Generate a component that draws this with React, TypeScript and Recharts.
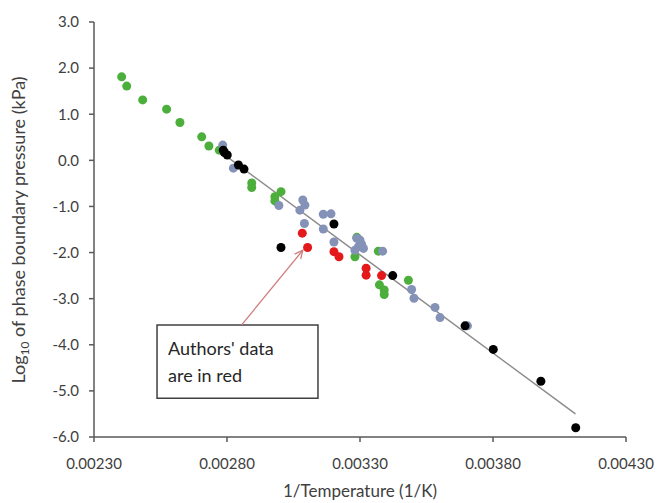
import React from 'react';
import {
  ReferenceArea,
  ReferenceLine,
  Scatter,
  ScatterChart,
  XAxis,
  YAxis,
} from 'recharts';

type Pt = { x: number; y: number };

const xTicks = [0.0023, 0.0028, 0.0033, 0.0038, 0.0043];
const yTicks = [-6, -5, -4, -3, -2, -1, 0, 1, 2, 3];

// literature data sets
const greenPoints: Pt[] = [
  { x: 0.002404, y: 1.81 },
  { x: 0.002423, y: 1.61 },
  { x: 0.002483, y: 1.31 },
  { x: 0.002573, y: 1.11 },
  { x: 0.002623, y: 0.82 },
  { x: 0.002705, y: 0.51 },
  { x: 0.002732, y: 0.31 },
  { x: 0.002771, y: 0.22 },
  { x: 0.002893, y: -0.49 },
  { x: 0.002893, y: -0.59 },
  { x: 0.00298, y: -0.79 },
  { x: 0.003003, y: -0.68 },
  { x: 0.00298, y: -0.88 },
  { x: 0.003288, y: -1.67 },
  { x: 0.003281, y: -2.09 },
  { x: 0.003369, y: -1.97 },
  { x: 0.003373, y: -2.7 },
  { x: 0.003391, y: -2.81 },
  { x: 0.003391, y: -2.91 },
  { x: 0.003482, y: -2.6 },
];

const grayPoints: Pt[] = [
  { x: 0.002784, y: 0.33 },
  { x: 0.002824, y: -0.17 },
  { x: 0.002995, y: -0.98 },
  { x: 0.003085, y: -0.86 },
  { x: 0.003093, y: -0.97 },
  { x: 0.003074, y: -1.08 },
  { x: 0.003162, y: -1.17 },
  { x: 0.003191, y: -1.16 },
  { x: 0.003091, y: -1.37 },
  { x: 0.003162, y: -1.49 },
  { x: 0.003202, y: -1.77 },
  { x: 0.003288, y: -1.69 },
  { x: 0.0033, y: -1.73 },
  { x: 0.003294, y: -1.87 },
  { x: 0.003313, y: -1.91 },
  { x: 0.003306, y: -1.82 },
  { x: 0.003281, y: -1.95 },
  { x: 0.003385, y: -1.97 },
  { x: 0.003494, y: -2.8 },
  { x: 0.003503, y: -2.99 },
  { x: 0.003582, y: -3.19 },
  { x: 0.003601, y: -3.41 },
  { x: 0.003704, y: -3.59 },
];

// authors' own measurements
const redPoints: Pt[] = [
  { x: 0.003083, y: -1.58 },
  { x: 0.003103, y: -1.89 },
  { x: 0.003202, y: -1.98 },
  { x: 0.003221, y: -2.09 },
  { x: 0.003323, y: -2.34 },
  { x: 0.003323, y: -2.49 },
  { x: 0.003381, y: -2.5 },
];

const blackPoints: Pt[] = [
  { x: 0.002786, y: 0.22 },
  { x: 0.00279, y: 0.17 },
  { x: 0.002801, y: 0.115 },
  { x: 0.002843, y: -0.1 },
  { x: 0.002864, y: -0.19 },
  { x: 0.003202, y: -1.38 },
  { x: 0.003003, y: -1.89 },
  { x: 0.003423, y: -2.5 },
  { x: 0.003695, y: -3.59 },
  { x: 0.003801, y: -4.1 },
  { x: 0.00398, y: -4.79 },
  { x: 0.004111, y: -5.8 },
];

// linear fit through all data
const trendLine: Pt[] = [
  { x: 0.00276, y: 0.25 },
  { x: 0.00411, y: -5.5 },
];

// note box and its arrow, in data units
const noteBox = { x1: 0.002537, x2: 0.003142, y1: -5.16, y2: -3.57 };
const noteArrow: Pt[] = [
  { x: 0.002855, y: -3.57 },
  { x: 0.003085, y: -1.95 },
];

const FONT = 'Lato, "Open Sans", sans-serif';
const AXIS = '#595959';
const TEXT = '#404040';

const dot = (fill: string) => (p: any) => (
  <circle cx={p.cx} cy={p.cy} r={4.5} fill={fill} />
);

const YTitle = () => (
  <text
    transform="rotate(-90, 25, 230)"
    x={25}
    y={230}
    textAnchor="middle"
    fontSize={18}
    fill={TEXT}
    fontFamily={FONT}
  >
    <tspan>Log</tspan>
    <tspan fontSize={12} dy={4}>
      10
    </tspan>
    <tspan dy={-4}> of phase boundary pressure (kPa)</tspan>
  </text>
);

const XTitle = () => (
  <text
    x={360}
    y={497}
    textAnchor="middle"
    fontSize={17}
    fill={TEXT}
    fontFamily={FONT}
  >
    1/Temperature (1/K)
  </text>
);

const NoteText = (props: any) => {
  const { x, y } = props.viewBox;
  return (
    <text fontSize={18} fill="#262626" fontFamily={FONT}>
      <tspan x={x + 11} y={y + 30}>
        Authors' data
      </tspan>
      <tspan x={x + 11} y={y + 57}>
        are in red
      </tspan>
    </text>
  );
};

const Arrow = (props: any) => {
  const { x1, y1, x2, y2 } = props;
  const ang = Math.atan2(y2 - y1, x2 - x1);
  const len = 9;
  const spread = 0.45;
  const ax = x2 - len * Math.cos(ang - spread);
  const ay = y2 - len * Math.sin(ang - spread);
  const bx = x2 - len * Math.cos(ang + spread);
  const by = y2 - len * Math.sin(ang + spread);
  return (
    <g stroke="#d27b7b" strokeWidth={1.3} fill="none">
      <line x1={x1} y1={y1} x2={x2} y2={y2} />
      <polyline points={`${ax},${ay} ${x2},${y2} ${bx},${by}`} />
    </g>
  );
};

export default function App() {
  return (
    <div
      style={{
        position: 'absolute',
        left: 0,
        top: 0,
        width: 660,
        height: 503,
        background: '#fff',
      }}
    >
      <ScatterChart
        width={660}
        height={503}
        margin={{ top: 22, right: 34, bottom: 0, left: 0 }}
      >
        <XAxis
          type="number"
          dataKey="x"
          domain={[0.0023, 0.0043]}
          ticks={xTicks}
          tickFormatter={(v: number) => v.toFixed(5)}
          height={66}
          stroke={AXIS}
          strokeWidth={1.5}
          tickSize={5}
          tickMargin={16}
          tick={{ fill: TEXT, fontSize: 15, fontFamily: FONT }}
          label={{ content: XTitle }}
        />
        <YAxis
          type="number"
          dataKey="y"
          domain={[-6, 3]}
          ticks={yTicks}
          tickFormatter={(v: number) => v.toFixed(1)}
          width={94}
          stroke={AXIS}
          strokeWidth={1.5}
          tickSize={5}
          tickMargin={10}
          tick={{ fill: TEXT, fontSize: 15, fontFamily: FONT }}
          label={{ content: YTitle }}
        />
        <Scatter
          data={greenPoints}
          shape={dot('#4caf3c')}
          isAnimationActive={false}
        />
        <Scatter
          data={grayPoints}
          shape={dot('#8592b8')}
          isAnimationActive={false}
        />
        <Scatter
          data={redPoints}
          shape={dot('#e3191c')}
          isAnimationActive={false}
        />
        <Scatter
          data={blackPoints}
          shape={dot('#000000')}
          isAnimationActive={false}
        />
        <ReferenceLine
          segment={trendLine}
          stroke="#8c8c8c"
          strokeWidth={1.5}
        />
        <ReferenceArea
          x1={noteBox.x1}
          x2={noteBox.x2}
          y1={noteBox.y1}
          y2={noteBox.y2}
          fill="#ffffff"
          fillOpacity={1}
          stroke="#404040"
          strokeWidth={1.5}
          label={{ content: NoteText }}
        />
        <ReferenceLine segment={noteArrow} shape={Arrow} />
      </ScatterChart>
    </div>
  );
}
